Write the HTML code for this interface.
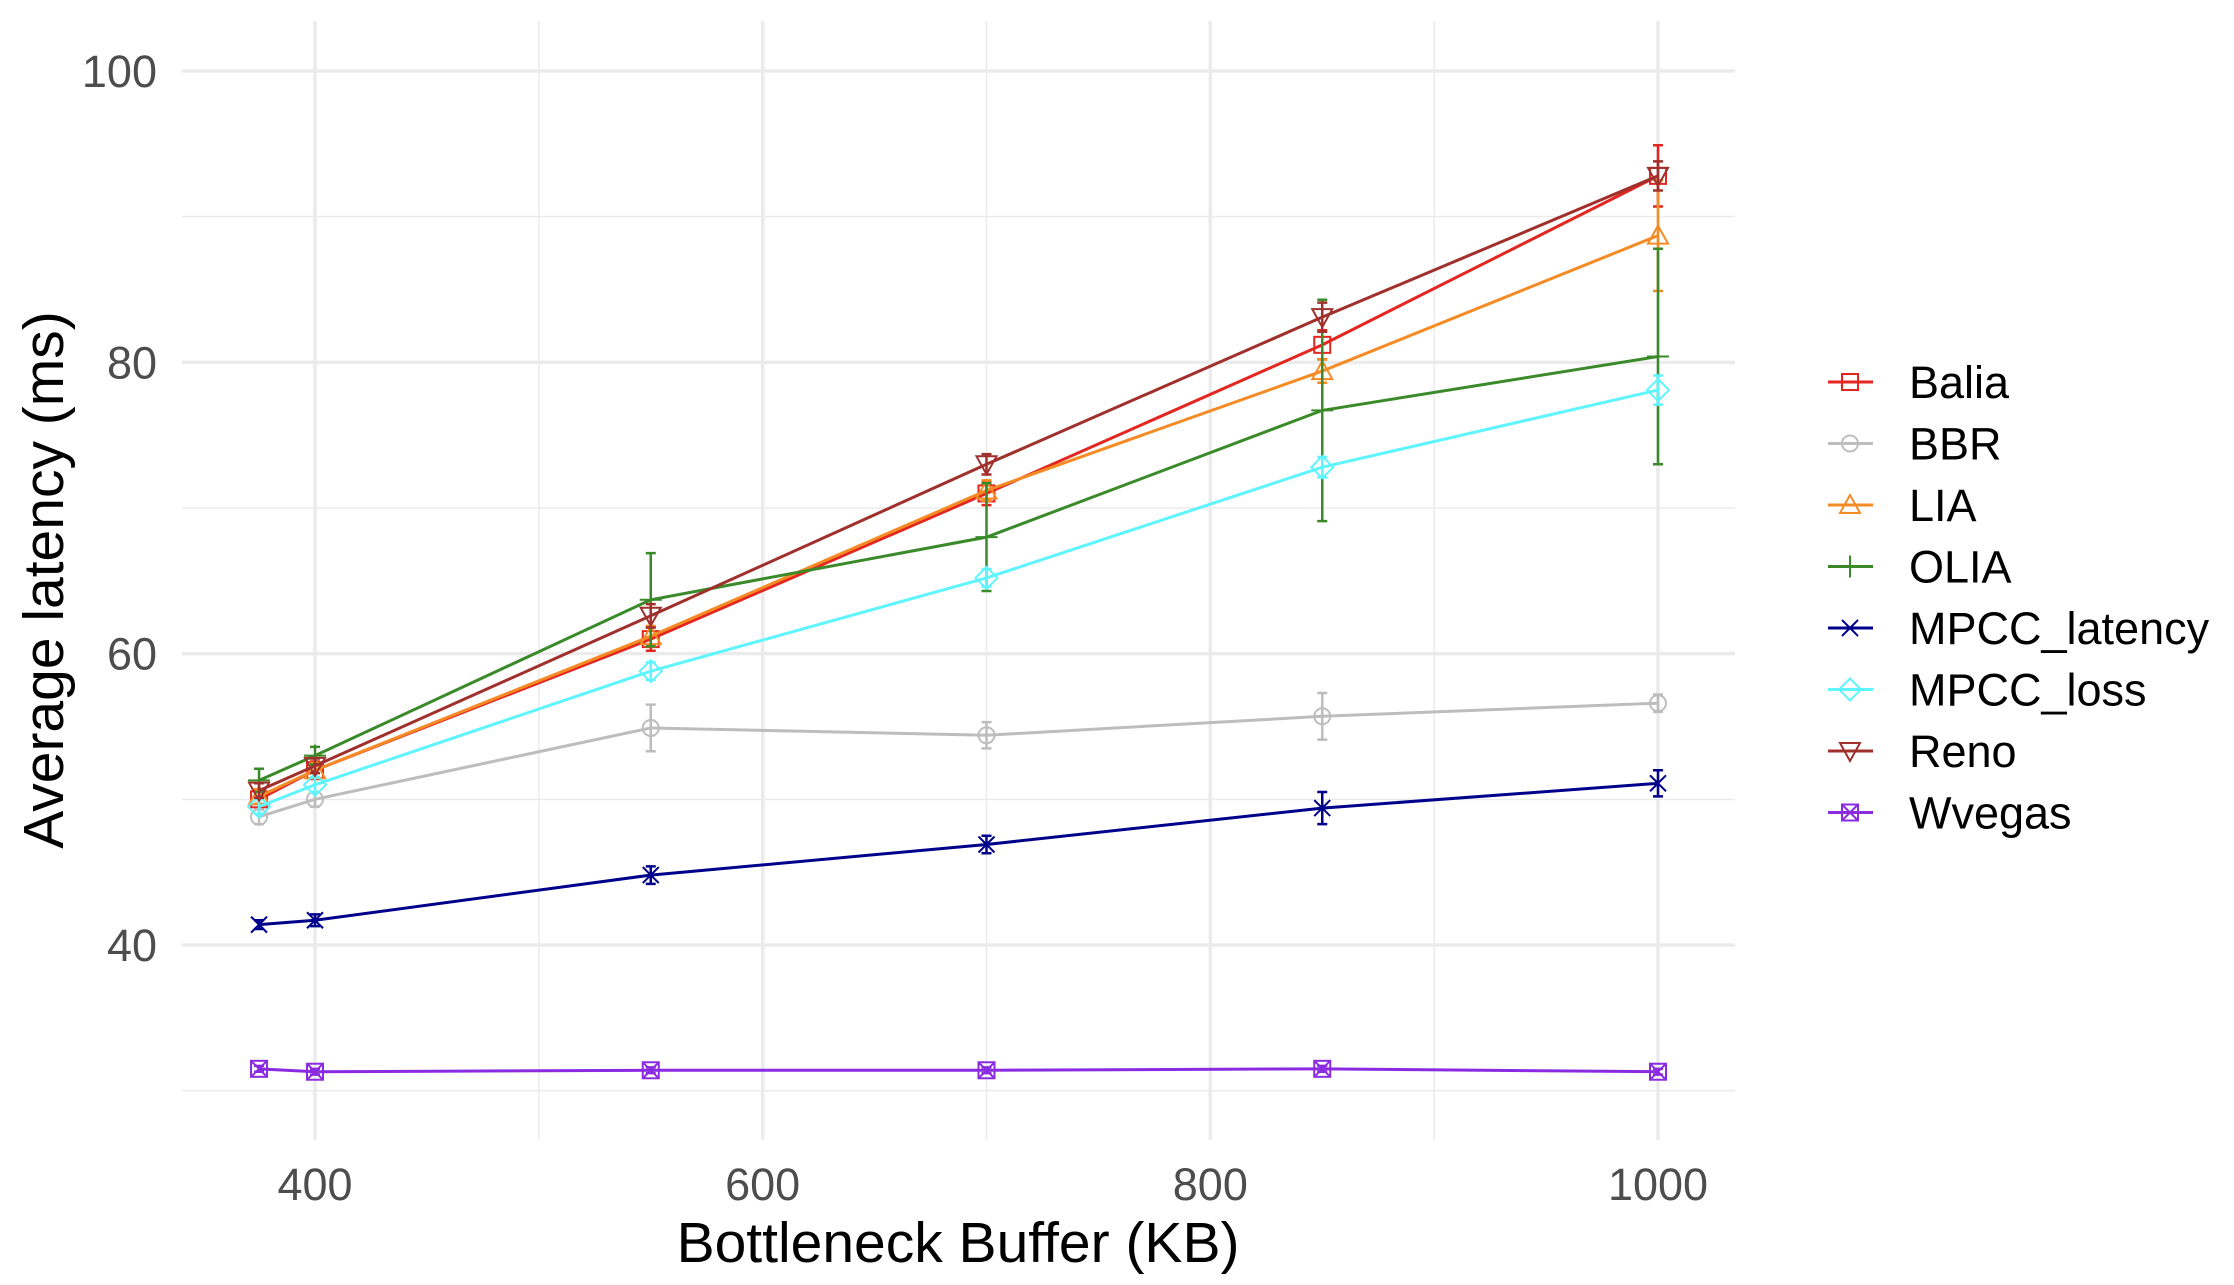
<!DOCTYPE html>
<html><head><meta charset="utf-8"><style>
body{margin:0;background:#fff}
svg text{font-family:"Liberation Sans",sans-serif}
</style></head><body>
<svg id="chart" width="2234" height="1280" viewBox="0 0 2234 1280">
<g id="grid"></g><g id="series"></g><g id="axes"></g><g id="legend"></g>
</svg>
<script>
const xValues=[375,400,550,700,850,1000];
const seriesNames=["Balia","BBR","LIA","OLIA","MPCC_latency","MPCC_loss","Reno","Wvegas"];
const balia=[50,52,61,71,81.2,92.8];
const bbr=[48.8,50,54.9,54.4,55.7,56.6];
const lia=[50.2,52,61.2,71.2,79.4,88.7];
const olia=[51.3,53,63.7,68,76.7,80.4];
const mpccLatency=[41.4,41.7,44.8,46.9,49.4,51.1];
const mpccLoss=[49.5,51,58.8,65.2,72.8,78.1];
const reno=[50.6,52.3,62.6,73,83.1,92.8];
const wvegas=[31.5,31.3,31.4,31.4,31.5,31.3];
const baliaErr=[0.6,0.6,0.8,0.8,1,2.1];
const bbrErr=[0.5,0.5,1.6,0.9,1.6,0.6];
const liaErr=[0.5,0.5,0.7,0.7,0.8,3.8];
const oliaErr=[0.8,0.6,3.2,3.7,7.6,7.4];
const mpccLatencyErr=[0.3,0.4,0.6,0.6,1.1,0.9];
const mpccLossErr=[0.5,0.5,0.6,0.6,0.7,1];
const renoErr=[0.5,0.5,0.8,0.7,1,1];
const wvegasErr=[0.2,0.2,0.2,0.2,0.2,0.2];
const xTicks=[400,600,800,1000];
const xMinor=[500,700,900];
const yTicks=[40,60,80,100];
const yMinor=[30,50,70,90];
const colors=["#e3261f","#bdbdbd","#f58b25","#3a8a2a","#00008b","#5ff5ff","#a0302c","#8a2be2"];
const allData=[balia,bbr,lia,olia,mpccLatency,mpccLoss,reno,wvegas];
const allErr=[baliaErr,bbrErr,liaErr,oliaErr,mpccLatencyErr,mpccLossErr,renoErr,wvegasErr];
const X=v=>315+(v-400)*(1658-315)/600;
const Y=v=>945-(v-40)*(945-71)/60;
const L=182,R=1735,T=21,B=1140;
const NS="http://www.w3.org/2000/svg";
function mk(tag,attrs,parent){const e=document.createElementNS(NS,tag);for(const k in attrs)e.setAttribute(k,attrs[k]);parent.appendChild(e);return e;}
const grid=document.getElementById('grid'),series=document.getElementById('series'),axes=document.getElementById('axes'),legend=document.getElementById('legend');
xMinor.forEach(v=>{const l=mk('line',{x1:X(v),x2:X(v),y1:T,y2:B,stroke:'#ebebeb','stroke-width':1.5},grid);});
yMinor.forEach(v=>{const l=mk('line',{x1:L,x2:R,y1:Y(v),y2:Y(v),stroke:'#ebebeb','stroke-width':1.5},grid);});
xTicks.forEach(v=>{const l=mk('line',{x1:X(v),x2:X(v),y1:T,y2:B,stroke:'#ebebeb','stroke-width':3.5},grid);
const t=mk('text',{x:X(v),y:1200,'text-anchor':'middle','font-size':45,fill:'#4d4d4d'},axes);t.textContent=v;});
yTicks.forEach(v=>{const l=mk('line',{x1:L,x2:R,y1:Y(v),y2:Y(v),stroke:'#ebebeb','stroke-width':3.5},grid);
const t=mk('text',{x:157,y:Y(v)+16,'text-anchor':'end','font-size':45,fill:'#4d4d4d'},axes);t.textContent=v;});
const xt=mk('text',{x:958,y:1262,'text-anchor':'middle','font-size':57,fill:'#000'},axes);xt.textContent='Bottleneck Buffer (KB)';


const yt=mk('text',{x:0,y:0,'text-anchor':'middle','font-size':57,fill:'#000',transform:'translate(63,580) rotate(-90)'},axes);yt.textContent='Average latency (ms)';


function marker(i,cx,cy,c,parent){const s=8,a={fill:'none',stroke:c,'stroke-width':2};
if(i===0)mk('rect',Object.assign({x:cx-s,y:cy-s,width:2*s,height:2*s},a),parent);
else if(i===1)mk('circle',Object.assign({cx:cx,cy:cy,r:s},a),parent);
else if(i===2)mk('polygon',Object.assign({points:`${cx},${cy-10} ${cx-10},${cy+8} ${cx+10},${cy+8}`},a),parent);
else if(i===3)mk('path',Object.assign({d:`M${cx-11},${cy}H${cx+11}M${cx},${cy-11}V${cy+11}`},a),parent);
else if(i===4)mk('path',Object.assign({d:`M${cx-8},${cy-8}L${cx+8},${cy+8}M${cx-8},${cy+8}L${cx+8},${cy-8}`},a),parent);
else if(i===5)mk('polygon',Object.assign({points:`${cx},${cy-11} ${cx+11},${cy} ${cx},${cy+11} ${cx-11},${cy}`},a),parent);
else if(i===6)mk('polygon',Object.assign({points:`${cx},${cy+10} ${cx-10},${cy-8} ${cx+10},${cy-8}`},a),parent);
else{mk('rect',Object.assign({x:cx-s,y:cy-s,width:2*s,height:2*s},a),parent);mk('path',Object.assign({d:`M${cx-s},${cy-s}L${cx+s},${cy+s}M${cx-s},${cy+s}L${cx+s},${cy-s}`},a),parent);}}
allData.forEach((d,i)=>{const g=mk('g',{},series);
const c=colors[i];
mk('polyline',{points:d.map((v,j)=>X(xValues[j])+','+Y(v)).join(' '),fill:'none',stroke:c,'stroke-width':3},g);
d.forEach((v,j)=>{const x=X(xValues[j]),e=allErr[i][j];
const eb=mk('path',{d:`M${x-5},${Y(v+e)}H${x+5}M${x},${Y(v+e)}V${Y(v-e)}M${x-5},${Y(v-e)}H${x+5}`,stroke:c,'stroke-width':2.5,fill:'none'},g);


marker(i,x,Y(v),c,g);});
const ly=382+61.5*i;const lg=mk('g',{},legend);
mk('line',{x1:1828,x2:1873,y1:ly,y2:ly,stroke:c,'stroke-width':3},lg);marker(i,1850,ly,c,lg);
const t=mk('text',{x:1909,y:ly+16,'font-size':45,fill:'#000'},lg);t.textContent=seriesNames[i];});
</script>
</body></html>
